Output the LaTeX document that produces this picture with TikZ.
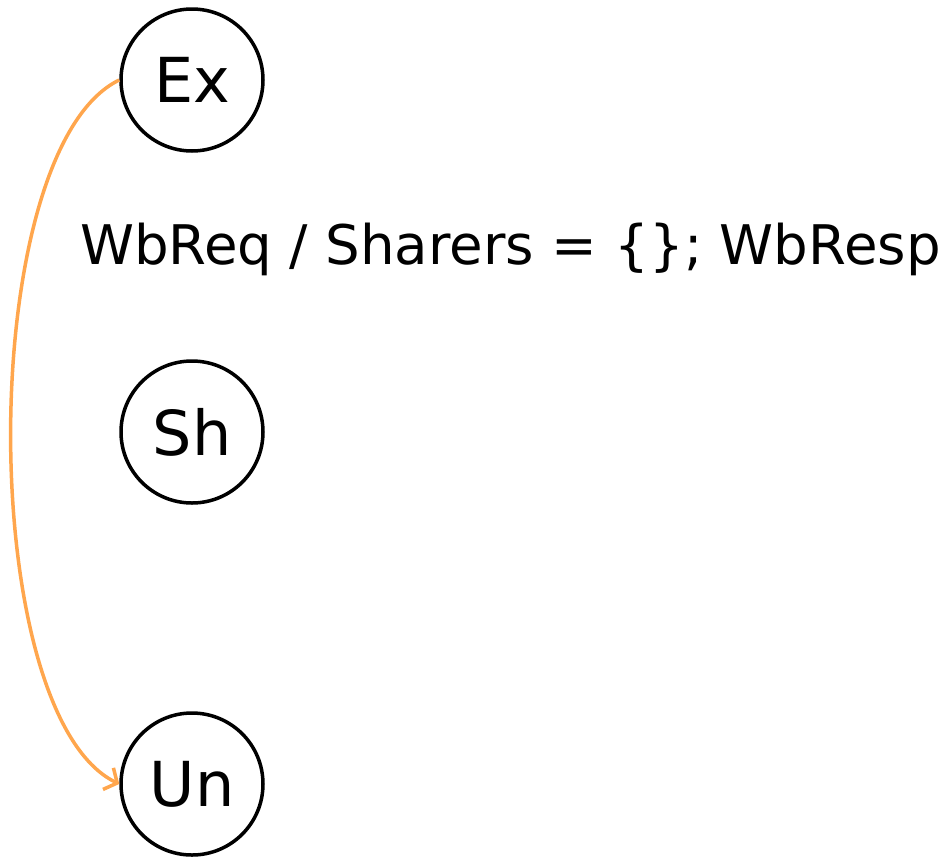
\documentclass[tikz,border=0pt]{standalone}
\usepackage{fontspec}
\setmainfont{DejaVu Sans}
\usetikzlibrary{arrows.meta}
\definecolor{edgeorange}{HTML}{FFA64D}
\begin{document}
\begin{tikzpicture}[x=1pt,y=-1pt,
  state/.style={circle,draw=black,line width=3.5pt,minimum size=142pt,inner sep=0pt,font=\fontsize{62}{64}\selectfont},
  trans/.style={draw=edgeorange,line width=3.5pt,-{Straight Barb[length=10pt,width=24pt]}},
  lbl/.style={inner sep=0pt,anchor=base west,font=\fontsize{54.6}{58}\selectfont}]
\useasboundingbox (0,0) rectangle (944,857);
\node[state] (ex) at (192,80) {Ex};
\node[state] (sh) at (192,432) {Sh};
\node[state] (un) at (192,784) {Un};
\node[lbl] (l) at (80,264) {WbReq / Sharers = \{\}; WbResp};
\draw[trans] (ex.west) .. controls (-25,150) and (-25,714) .. (un.west);
\end{tikzpicture}
\end{document}
